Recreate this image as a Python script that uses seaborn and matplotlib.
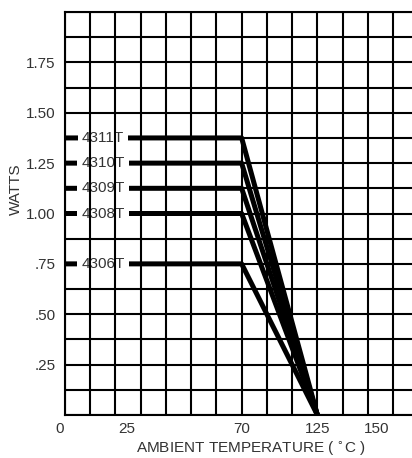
import pandas as pd
import seaborn as sns
import matplotlib.pyplot as plt
from matplotlib.ticker import MultipleLocator, FixedLocator
from matplotlib.transforms import ScaledTranslation

# derating curves: flat to 70 C, reaching zero at the "125" tick
models = ["4311T", "4310T", "4309T", "4308T", "4306T"]
watts = [1.375, 1.25, 1.125, 1.00, 0.75]
temp_pos = [0, 70, 100]          # chart positions of 0, 70, 125 C

x_tick_pos = [0, 24.4, 70, 100, 123.5]
x_tick_labels = ["0", "25", "70", "125", "150"]
y_tick_pos = [0.25, 0.50, 0.75, 1.00, 1.25, 1.50, 1.75]
y_tick_labels = [".25", ".50", ".75", "1.00", "1.25", "1.50", "1.75"]

rows = []
for m, w in zip(models, watts):
    for i, t in enumerate(temp_pos):
        rows.append({"model": m, "temp": t, "watts": w if i < 2 else 0.0})
df = pd.DataFrame(rows)

sns.set_style("white")
plt.rcParams["font.family"] = ["Liberation Sans", "DejaVu Sans"]
txt = "#333333"

fig = plt.figure(figsize=(4.12, 4.58), dpi=100)
ax = fig.add_axes([65 / 412, 43 / 458, 1 - 65 / 412, 403 / 458])

sns.lineplot(data=df, x="temp", y="watts", units="model", estimator=None,
             sort=False, color="black", lw=3.6, ax=ax, zorder=1,
             solid_capstyle="butt")

for m, w in zip(models, watts):
    ax.text(15.1, w, m, ha="center", va="center", fontsize=11, color=txt,
            zorder=1.5,
            bbox=dict(facecolor="white", edgecolor="none", pad=3.0))

ax.set_xlim(0, 137.5)
ax.set_ylim(0, 2.0)

ax.xaxis.remove_overlapping_locs = False
ax.xaxis.set_major_locator(FixedLocator(x_tick_pos))
ax.set_xticklabels(x_tick_labels)
ax.xaxis.set_minor_locator(MultipleLocator(10))
ax.yaxis.set_major_locator(FixedLocator(y_tick_pos))
ax.set_yticklabels(y_tick_labels)
ax.yaxis.set_minor_locator(MultipleLocator(0.125))

ax.xaxis.grid(which="minor", color="black", lw=1.5)
ax.yaxis.grid(which="both", color="black", lw=1.5)
ax.xaxis.set_zorder(2.5)   # vertical lines run over the label gaps
ax.yaxis.set_zorder(0.5)
ax.tick_params(which="both", length=0, labelsize=11, colors=txt)
ax.tick_params(axis="y", pad=7)
ax.tick_params(axis="x", pad=5)

# the "0" sits just left of the axis corner
lab0 = ax.get_xticklabels()[0]
lab0.set_transform(lab0.get_transform() + ScaledTranslation(-0.05, 0, fig.dpi_scale_trans))

for s in ["left", "bottom", "top"]:
    ax.spines[s].set_color("black")
    ax.spines[s].set_linewidth(1.5)
ax.spines["right"].set_visible(False)

ax.set_xlabel("AMBIENT TEMPERATURE ( $^{\\circ}$C )", fontsize=11, color=txt)
ax.set_ylabel("WATTS", fontsize=11, color=txt)
ax.xaxis.set_label_coords((251 - 65) / 347, -25 / 403)
ax.yaxis.set_label_coords(-42 / 347, (415 - 189) / 403)

fig.savefig("out.png", dpi=100)
